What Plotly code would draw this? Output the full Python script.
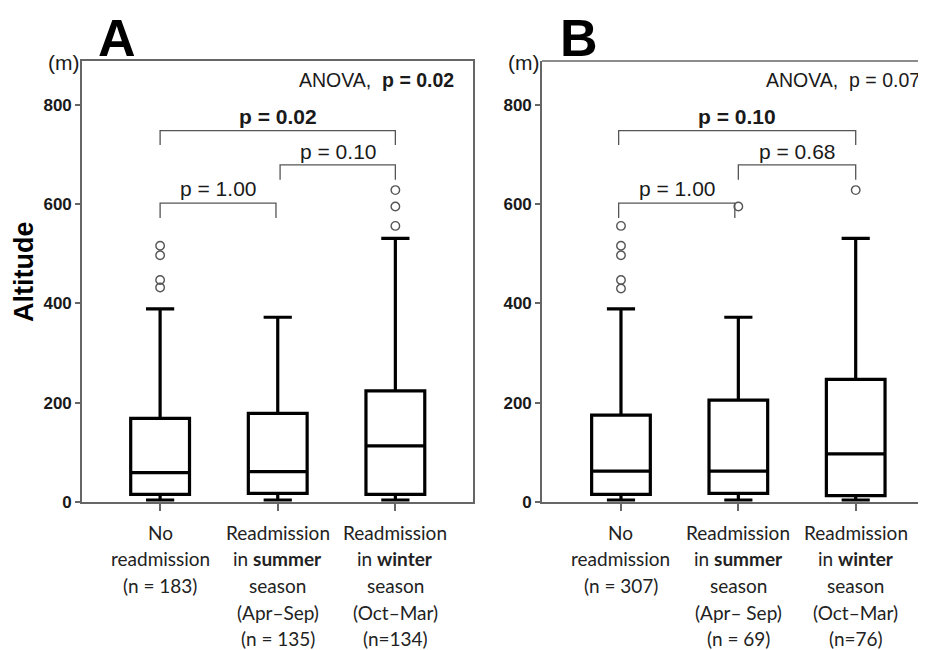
import plotly.graph_objects as go

# the page has an 8px body margin: the figure starts at (8, 8) in the window
OFF = 8
W, H = 926 - OFF, 650 - OFF

# ---------------- data ----------------
groups = [0, 1, 2]
labels_A = ["No<br>readmission<br>(n = 183)",
            "Readmission<br>in <b>summer</b><br>season<br>(Apr–Sep)<br>(n = 135)",
            "Readmission<br>in <b>winter</b><br>season<br>(Oct–Mar)<br>(n=134)"]
labels_B = ["No<br>readmission<br>(n = 307)",
            "Readmission<br>in <b>summer</b><br>season<br>(Apr– Sep)<br>(n = 69)",
            "Readmission<br>in <b>winter</b><br>season<br>(Oct–Mar)<br>(n=76)"]

q1_A = [15.5, 17.5, 15.5]
med_A = [59, 61, 113]
q3_A = [168.5, 178.6, 223.6]
lo_A = [4, 4, 4]
hi_A = [389, 372, 531]
out_A = [[516, 497, 447, 432], [], [628, 595, 556]]

q1_B = [15.5, 17.5, 12.7]
med_B = [62, 62, 97]
q3_B = [175, 205, 247]
lo_B = [4, 4, 4]
hi_B = [389, 372, 531]
out_B = [[556, 516, 497, 447, 430], [595], [628]]

# brackets: (x_start, x_end, top, tick_bottom, text, bold)
brackets_A = [(0.0, 2.0, 748, 719, "p = 0.02", True),
              (1.02, 2.0, 679, 649, "p = 0.10", False),
              (0.0, 0.985, 602, 572, "p = 1.00", False)]
brackets_B = [(-0.02, 2.0, 748, 719, "p = 0.10", True),
              (1.0, 2.0, 679, 649, "p = 0.68", False),
              (-0.02, 0.97, 602, 572, "p = 1.00", False)]
text_y = [777, 705, 632]
anova_A = "ANOVA,  <b>p = 0.02</b>"
anova_B = "ANOVA,  p = 0.07"

yticks = [0, 200, 400, 600, 800]

# ---------------- helpers (window pixel -> paper) ----------------
def px(x):
    return (x - OFF) / W

def py(y):
    return 1 - (y - OFF) / H

AX = "#666666"
TXT = "#1a1a1a"
FONT = "Liberation Sans, Arial, sans-serif"

fig = go.Figure()

def add_panel(xa, ya, q1, med, q3, lo, hi, outs):
    fig.add_trace(go.Box(
        x=groups, q1=q1, median=med, q3=q3, lowerfence=lo, upperfence=hi,
        boxpoints=False, fillcolor="white",
        line=dict(color="black", width=3.2), width=0.5, whiskerwidth=0.48,
        xaxis=xa, yaxis=ya, showlegend=False))
    xs, ys = [], []
    for g, vals in zip(groups, outs):
        for v in vals:
            xs.append(g)
            ys.append(v)
    fig.add_trace(go.Scatter(
        x=xs, y=ys, mode="markers", xaxis=xa, yaxis=ya, showlegend=False,
        marker=dict(symbol="circle-open", size=8.5, color="#555555",
                    line=dict(width=1.4, color="#555555"))))

add_panel("x", "y", q1_A, med_A, q3_A, lo_A, hi_A, out_A)
add_panel("x2", "y2", q1_B, med_B, q3_B, lo_B, hi_B, out_B)

ydom = [py(502), py(61)]
yaxis_common = dict(range=[0, 888], domain=ydom, tickvals=yticks, ticks="outside",
                    ticklen=5, tickwidth=1.5, tickcolor=AX, showline=True,
                    linecolor=AX, linewidth=1.6, showgrid=False, zeroline=False,
                    automargin=False,
                    tickfont=dict(family=FONT, size=17, color=TXT, weight="bold"))
xaxis_common = dict(tickvals=groups, ticks="outside", ticklen=7, tickwidth=1.5,
                    tickcolor=AX, showline=True, linecolor=AX, linewidth=1.6,
                    showgrid=False, zeroline=False, showticklabels=False,
                    automargin=False)

fig.update_layout(
    width=W, height=H, margin=dict(l=0, r=0, t=0, b=0, pad=0, autoexpand=False),
    paper_bgcolor="white", plot_bgcolor="white", showlegend=False,
    xaxis=dict(xaxis_common, domain=[px(82), px(473)], range=[-0.664, 2.66],
               mirror=True, anchor="y"),
    yaxis=dict(yaxis_common, mirror=True, anchor="x"),
    xaxis2=dict(xaxis_common, domain=[px(542), 1.0], range=[-0.673, 2.599],
                anchor="y2"),
    yaxis2=dict(yaxis_common, anchor="x2"),
)

shapes = []
shapes.append(dict(type="line", xref="paper", yref="paper", x0=px(542), x1=1.0,
                   y0=ydom[1], y1=ydom[1], line=dict(color=AX, width=1.6)))

annotations = []

def add_brackets(xr, yr, brs):
    for (x0, x1, top, bot, txt, bold), ty in zip(brs, text_y):
        shapes.append(dict(type="path", xref=xr, yref=yr,
                           path=f"M {x0},{bot} L {x0},{top} L {x1},{top} L {x1},{bot}",
                           line=dict(color="#555555", width=1.3)))
        annotations.append(dict(x=(x0 + x1) / 2, y=ty, xref=xr, yref=yr,
                                yanchor="middle",
                                text=f"<b>{txt}</b>" if bold else txt, showarrow=False,
                                font=dict(family=FONT, size=21, color=TXT)))

add_brackets("x", "y", brackets_A)
add_brackets("x2", "y2", brackets_B)

LINE_H = 26.7
def add_xlabels(xr, labels):
    for g, lab in zip(groups, labels):
        for i, line in enumerate(lab.split("<br>")):
            annotations.append(dict(x=g, y=py(532 + i * LINE_H), xref=xr, yref="paper",
                                    text=line, showarrow=False, yanchor="middle",
                                    font=dict(family="Lato, Carlito, sans-serif", size=19,
                                              color="#222222")))

add_xlabels("x", labels_A)
add_xlabels("x2", labels_B)

for left, anova_txt, anova_right, letter, letter_x in [
        (82, anova_A, 456, "A", 97), (542, anova_B, 922, "B", 559)]:
    annotations.append(dict(x=px(left - 1), y=py(62), xref="paper", yref="paper",
                            text="(m)", showarrow=False, xanchor="right", yanchor="middle",
                            font=dict(family=FONT, size=21, color=TXT)))
    annotations.append(dict(x=px(anova_right), y=py(80), xref="paper", yref="paper",
                            text=anova_txt, showarrow=False, xanchor="right", yanchor="middle",
                            font=dict(family=FONT, size=19.5, color=TXT)))
    annotations.append(dict(x=px(letter_x), y=1.0, xref="paper", yref="paper",
                            text=f"<b>{letter}</b>", showarrow=False, xanchor="left",
                            yanchor="top", borderpad=0,
                            font=dict(family=FONT, size=52, color="black")))

annotations.append(dict(x=px(24), y=py(272), xref="paper", yref="paper",
                        text="<b>Altitude</b>", showarrow=False, textangle=-90,
                        xanchor="center", yanchor="middle",
                        font=dict(family=FONT, size=27, color="black")))

fig.update_layout(shapes=shapes, annotations=annotations)
fig.write_html("out.html")
